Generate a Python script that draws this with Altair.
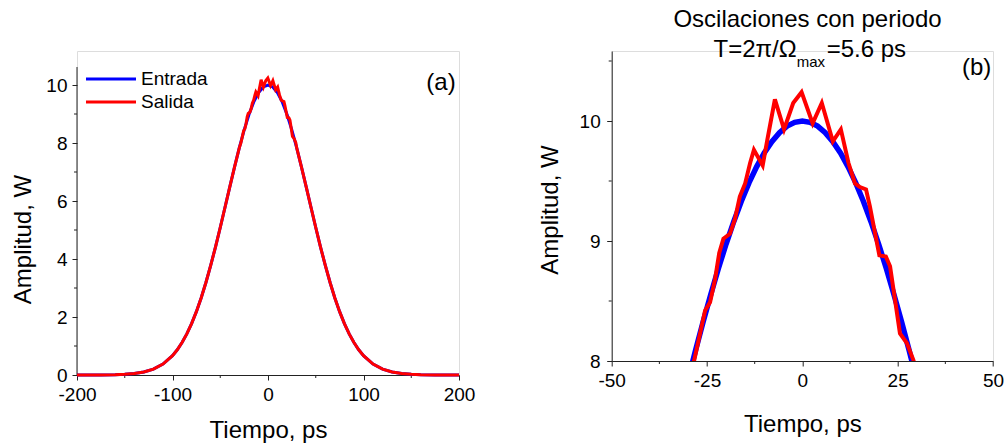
import altair as alt
import pandas as pd

# ---------------- data ----------------
# Panel (a): input pulse (Entrada)
t_in_a = [-200, -175, -160, -150, -140, -130, -120, -110, -100, -95, -90, -85, -80, -75,
          -70, -65, -60, -55, -50, -45, -40, -35, -30, -25, -20, -15, -10, -5, 0,
          5, 10, 15, 20, 25, 30, 35, 40, 45, 50, 55, 60, 65, 70, 75, 80, 85, 90, 95,
          100, 110, 120, 130, 140, 150, 160, 175, 200]
p_in_a = [0.0, 0.003, 0.010, 0.023, 0.050, 0.104, 0.204, 0.379, 0.669, 0.871, 1.119, 1.417,
          1.772, 2.185, 2.658, 3.190, 3.778, 4.413, 5.086, 5.784, 6.488, 7.180, 7.840, 8.445,
          8.975, 9.410, 9.733, 9.933, 10.0,
          9.933, 9.733, 9.410, 8.975, 8.445, 7.840, 7.180, 6.488, 5.784, 5.086, 4.413, 3.778,
          3.190, 2.658, 2.185, 1.772, 1.417, 1.119, 0.871, 0.669, 0.379, 0.204, 0.104, 0.050,
          0.023, 0.010, 0.003, 0.0]

# Panel (a): output pulse (Salida)
t_out_a = [-200, -175, -160, -150, -140, -130, -120, -110, -100, -95, -90, -85, -80, -75,
           -70, -65, -60, -55, -50, -45, -40, -35, -30,
           -28.4, -25.5, -24.2, -22.9, -21.8, -20.7, -19.0, -17.7, -16.4, -15.0, -13.7, -12.7,
           -10.4, -9.2, -7.2, -4.8, -2.4, -0.2, 2.7, 5.1, 8.0, 10.1, 12.1, 13.8, 15.1, 16.7,
           17.7, 19.1, 20.2, 21.9, 23.0, 24.3, 25.6, 27.4, 29.1,
           30, 35, 40, 45, 50, 55, 60, 65, 70, 75, 80, 85, 90, 95, 100, 110, 120, 130, 140,
           150, 160, 175, 200]
p_out_a = [0.0, 0.003, 0.010, 0.023, 0.050, 0.104, 0.204, 0.379, 0.669, 0.871, 1.119, 1.417,
           1.772, 2.185, 2.658, 3.190, 3.778, 4.413, 5.086, 5.784, 6.488, 7.180, 7.840,
           8.0, 8.42, 8.49, 8.68, 8.90, 9.02, 9.06, 9.18, 9.37, 9.48, 9.65, 9.76,
           9.63, 9.84, 10.18, 9.93, 10.15, 10.24, 9.98, 10.15, 9.83, 9.93, 9.65, 9.48, 9.45, 9.43,
           9.29, 9.06, 8.88, 8.87, 8.79, 8.51, 8.23, 8.15, 8.01,
           7.840, 7.180, 6.488, 5.784, 5.086, 4.413, 3.778, 3.190, 2.658, 2.185, 1.772, 1.417,
           1.119, 0.871, 0.669, 0.379, 0.204, 0.104, 0.050, 0.023, 0.010, 0.003, 0.0]

# Panel (b): zoom on the peak
t_in_b = [-30, -28, -26, -24, -22, -20, -18, -16, -14, -12, -10, -8, -6, -4, -2, 0,
          2, 4, 6, 8, 10, 12, 14, 16, 18, 20, 22, 24, 26, 28, 30]
p_in_b = [7.840, 8.090, 8.329, 8.557, 8.773, 8.975, 9.161, 9.331, 9.484, 9.618, 9.733, 9.828,
          9.903, 9.957, 9.989, 10.0, 9.989, 9.957, 9.903, 9.828, 9.733, 9.618, 9.484, 9.331,
          9.161, 8.975, 8.773, 8.557, 8.329, 8.090, 7.840]
t_out_b = [-31, -28.4, -25.5, -24.2, -22.9, -21.8, -20.7, -19.0, -17.7, -16.4, -15.0, -13.7,
           -12.7, -10.4, -9.2, -7.2, -4.8, -2.4, -0.2, 2.7, 5.1, 8.0, 10.1, 12.1, 13.8, 15.1,
           16.7, 17.7, 19.1, 20.2, 21.9, 23.0, 24.3, 25.6, 27.4, 29.1, 31]
p_out_b = [7.75, 8.0, 8.42, 8.49, 8.68, 8.90, 9.02, 9.06, 9.18, 9.37, 9.48, 9.65, 9.76, 9.63,
           9.84, 10.18, 9.93, 10.15, 10.24, 9.98, 10.15, 9.83, 9.93, 9.65, 9.48, 9.45, 9.43,
           9.29, 9.06, 8.88, 8.87, 8.79, 8.51, 8.23, 8.15, 8.01, 7.8]

# ticks
xa_major = [-200, -100, 0, 100, 200]
xa_minor = [-150, -50, 50, 150]
ya_major = [0, 2, 4, 6, 8, 10]
ya_minor = [1, 3, 5, 7, 9]
xb_major = [-50, -25, 0, 25, 50]
xb_minor = [-37.5, -12.5, 12.5, 37.5]
yb_major = [8, 9, 10]
yb_minor = [8.5, 9.5, 10.5]

legend_labels = ["Entrada", "Salida"]
legend_colors = ["#0000ff", "#ff0000"]

FONT = "Liberation Sans"
AX = "#222222"
BLUE, RED = "#0000ff", "#ff0000"

# ---------------- layout ----------------
WA, HA = 382, 324          # left panel (y domain stretched so axis top sits lower)
PXA = 29.0                 # pixels per W on left panel
YA_MAX = HA / PXA
YA_AXIS_TOP = 10.62
WB, HB = 381.3, 310
YB_MIN = 8.0
YB_MAX = 8.0 + HB / 120.0

one = pd.DataFrame({"a": [0]})


def xaxis(values, width, title_y):
    return alt.Axis(values=values, title="Tiempo, ps", grid=False, tickSize=5, tickColor=AX,
                    domainColor=AX, labelFont=FONT, labelFontSize=19, labelColor="#000",
                    labelBaseline="alphabetic", labelPadding=20.7, labelExpr="'' + datum.value",
                    titleFont=FONT, titleFontSize=24, titleFontWeight="normal", titleColor="#000",
                    titleX=width / 2, titleY=title_y, titleBaseline="alphabetic",
                    titleAlign="center", labelFlush=False, labelOverlap=False)


def yaxis(values, title_x, title_y, pad, domain=True):
    return alt.Axis(values=values, title="Amplitud, W", grid=False, tickSize=5, tickColor=AX,
                    domain=domain, domainColor=AX, labelFont=FONT, labelFontSize=19,
                    labelColor="#000", labelPadding=pad, labelExpr="'' + datum.value",
                    titleFont=FONT, titleFontSize=24, titleFontWeight="normal", titleColor="#000",
                    titleX=title_x, titleY=title_y, titleAngle=270, titleBaseline="alphabetic",
                    titleAlign="center", labelFlush=False, labelOverlap=False)


# ---------------- panel (a) ----------------
xs_a = alt.Scale(domain=[-200, 200], nice=False, zero=False)
ys_a = alt.Scale(domain=[0, YA_MAX], nice=False, zero=False)

df_in_a = pd.DataFrame({"t": t_in_a, "p": p_in_a})
df_out_a = pd.DataFrame({"t": t_out_a, "p": p_out_a})

blue_a = alt.Chart(df_in_a).mark_line(color=BLUE, strokeWidth=3).encode(
    x=alt.X("t:Q", scale=xs_a, axis=xaxis(xa_major, WA, 62.3)),
    y=alt.Y("p:Q", scale=ys_a, axis=yaxis(ya_major, -47, 188, 5, domain=False)),
)
red_a = alt.Chart(df_out_a).mark_line(color=RED, strokeWidth=3).encode(
    x=alt.X("t:Q", scale=xs_a), y=alt.Y("p:Q", scale=ys_a))

ydom_a = alt.Chart(one).mark_rule(color=AX, strokeWidth=1).encode(
    x=alt.value(0), y=alt.datum(0, scale=ys_a), y2=alt.datum(YA_AXIS_TOP))
xminor_a = alt.Chart(pd.DataFrame({"v": xa_minor})).mark_rule(color=AX, strokeWidth=1).encode(
    x=alt.X("v:Q", scale=xs_a), y=alt.value(HA), y2=alt.value(HA + 3))
yminor_a = alt.Chart(pd.DataFrame({"v": ya_minor})).mark_rule(color=AX, strokeWidth=1).encode(
    y=alt.Y("v:Q", scale=ys_a), x=alt.value(0), x2=alt.value(-3))

leg_df = pd.DataFrame({"lab": legend_labels, "col": legend_colors, "yy": [28, 51]})
leg_lines = alt.Chart(leg_df).mark_rule(strokeWidth=3).encode(
    x=alt.value(9), x2=alt.value(59), y=alt.Y("yy:Q", scale=None),
    color=alt.Color("col:N", scale=None))
leg_text = alt.Chart(leg_df).mark_text(align="left", baseline="middle", font=FONT,
                                       fontSize=19, color="#000").encode(
    x=alt.value(64), y=alt.Y("yy:Q", scale=None), text="lab:N")
lab_a = alt.Chart(one).mark_text(align="center", baseline="middle", font=FONT, fontSize=24,
                                 color="#000").encode(
    x=alt.value(364), y=alt.value(32), text=alt.value("(a)"))

panel_a = alt.layer(ydom_a, xminor_a, yminor_a, blue_a, red_a, leg_lines, leg_text, lab_a).properties(
    width=WA, height=HA)

# ---------------- panel (b) ----------------
xs_b = alt.Scale(domain=[-50, 50], nice=False, zero=False)
ys_b = alt.Scale(domain=[YB_MIN, YB_MAX], nice=False, zero=False)

df_in_b = pd.DataFrame({"t": t_in_b, "p": p_in_b})
df_out_b = pd.DataFrame({"t": t_out_b, "p": p_out_b})

blue_b = alt.Chart(df_in_b).mark_line(color=BLUE, strokeWidth=5.5, clip=True).encode(
    x=alt.X("t:Q", scale=xs_b, axis=xaxis(xb_major, WB, 70.7)),
    y=alt.Y("p:Q", scale=ys_b, axis=yaxis(yb_major, -54.4, 158.5, 6.5)),
)
red_b = alt.Chart(df_out_b).mark_line(color=RED, strokeWidth=4, clip=True).encode(
    x=alt.X("t:Q", scale=xs_b), y=alt.Y("p:Q", scale=ys_b))
xminor_b = alt.Chart(pd.DataFrame({"v": xb_minor})).mark_rule(color=AX, strokeWidth=1).encode(
    x=alt.X("v:Q", scale=xs_b), y=alt.value(HB), y2=alt.value(HB + 3))
yminor_b = alt.Chart(pd.DataFrame({"v": yb_minor})).mark_rule(color=AX, strokeWidth=1).encode(
    y=alt.Y("v:Q", scale=ys_b), x=alt.value(0), x2=alt.value(-3))

title1 = alt.Chart(one).mark_text(align="center", baseline="alphabetic", font=FONT, fontSize=24,
                                  color="#000").encode(
    x=alt.value(195.8), y=alt.value(-23.7), text=alt.value("Oscilaciones con periodo"))
title2a = alt.Chart(one).mark_text(align="right", baseline="alphabetic", font=FONT, fontSize=24,
                                   color="#000").encode(
    x=alt.value(185), y=alt.value(5.7), text=alt.value("T=2π/Ω"))
title2b = alt.Chart(one).mark_text(align="left", baseline="alphabetic", font=FONT, fontSize=15,
                                   color="#000").encode(
    x=alt.value(185), y=alt.value(15.7), text=alt.value("max"))
title2c = alt.Chart(one).mark_text(align="left", baseline="alphabetic", font=FONT, fontSize=24,
                                   color="#000").encode(
    x=alt.value(215), y=alt.value(5.7), text=alt.value("=5.6 ps"))
lab_b = alt.Chart(one).mark_text(align="center", baseline="middle", font=FONT, fontSize=24,
                                 color="#000").encode(
    x=alt.value(365), y=alt.value(17), text=alt.value("(b)"))

panel_b = alt.layer(xminor_b, yminor_b, blue_b, red_b, title1, title2a, title2b, title2c,
                    lab_b).properties(width=WB, height=HB)

chart = alt.hconcat(panel_a, panel_b, spacing=152.7, bounds="flush").properties(
    autosize=alt.AutoSizeParams(type="none"),
    padding={"left": 77, "top": 51, "right": 929, "bottom": 395},
).configure_view(stroke=None).configure(background="white")

chart.save("out.html", embed_options={"renderer": "svg", "actions": False})
